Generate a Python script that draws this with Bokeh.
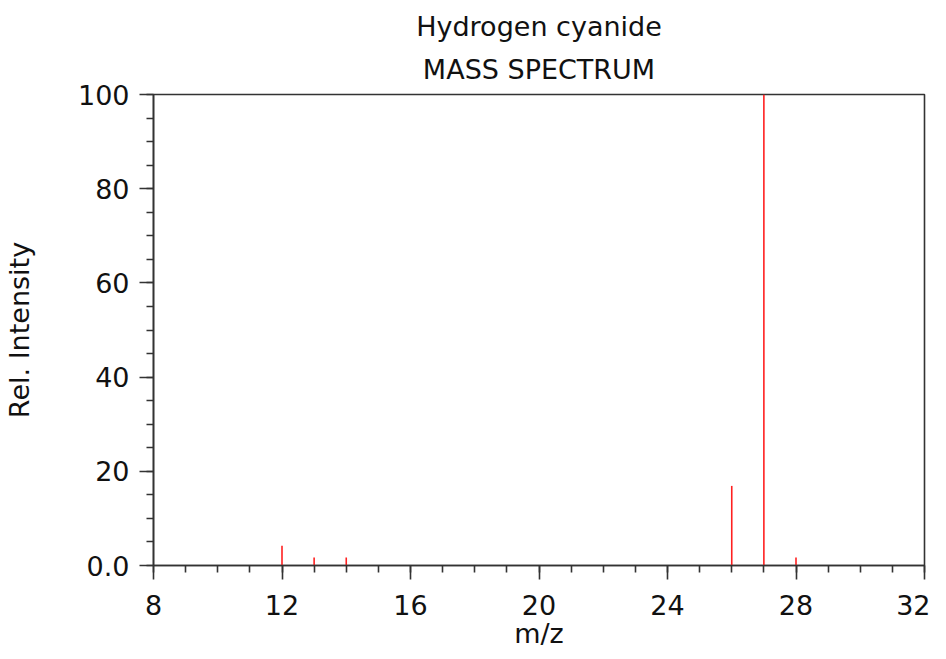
from bokeh.plotting import figure
from bokeh.models import Title, Range1d, FixedTicker, ColumnDataSource
from bokeh.embed import file_html
from bokeh.resources import INLINE

title_main = "Hydrogen cyanide"
title_sub = "MASS SPECTRUM"
mz = [12, 13, 14, 26, 27, 28]
intensity = [4.2, 1.7, 1.7, 16.9, 100.0, 1.7]
x_ticks = [8, 12, 16, 20, 24, 28, 32]
y_ticks = [0, 20, 40, 60, 80, 100]
y_tick_labels = ["0.0", "20", "40", "60", "80", "100"]

FONT = "DejaVu Sans"
FS = "27px"
INK = "#333333"

p = figure(width=930, height=651, output_backend="svg", toolbar_location=None,
           title=None, x_range=Range1d(8, 32), y_range=Range1d(0, 100),
           min_border_left=147, min_border_right=6, min_border_top=10,
           min_border_bottom=10)

p.add_layout(Title(text=title_sub, align="center", text_font=FONT, text_font_size=FS,
                   text_font_style="normal", text_color="#111111", standoff=20), "above")
p.add_layout(Title(text=title_main, align="center", text_font=FONT, text_font_size=FS,
                   text_font_style="normal", text_color="#111111", standoff=0), "above")
p.add_layout(Title(text=" ", align="center", text_font=FONT, text_font_size="4px",
                   standoff=1), "above")

src = ColumnDataSource(dict(x=mz, top=intensity, bottom=[0] * len(mz)))
p.segment(x0="x", y0="bottom", x1="x", y1="top", source=src, line_color="#ff2020", line_width=1.6)

p.xgrid.visible = False
p.ygrid.visible = False
p.outline_line_color = INK
p.outline_line_width = 1.6

for ax in (p.xaxis[0], p.yaxis[0]):
    ax.axis_line_color = INK
    ax.axis_line_width = 1.6
    ax.major_tick_line_color = INK
    ax.minor_tick_line_color = INK
    ax.major_tick_line_width = 1.6
    ax.minor_tick_line_width = 1.6
    ax.major_tick_in = 0
    ax.major_tick_out = 14
    ax.minor_tick_in = 0
    ax.minor_tick_out = 7
    ax.major_label_text_font = FONT
    ax.major_label_text_font_size = FS
    ax.major_label_text_color = "#111111"
    ax.axis_label_text_font = FONT
    ax.axis_label_text_font_size = FS
    ax.axis_label_text_font_style = "normal"
    ax.axis_label_text_color = "#111111"

p.xaxis[0].ticker = FixedTicker(ticks=x_ticks, minor_ticks=list(range(8, 33)))
p.yaxis[0].ticker = FixedTicker(ticks=y_ticks, minor_ticks=list(range(0, 101, 5)))
p.yaxis[0].major_label_overrides = {t: l for t, l in zip(y_ticks, y_tick_labels)}
p.xaxis[0].axis_label = "m/z"
p.yaxis[0].axis_label = "Rel. Intensity"
p.xaxis[0].major_label_standoff = 15
p.xaxis[0].axis_label_standoff = 0
p.yaxis[0].major_label_standoff = 10
p.yaxis[0].axis_label_standoff = 40

open("out.html", "w").write(file_html(p, INLINE))
